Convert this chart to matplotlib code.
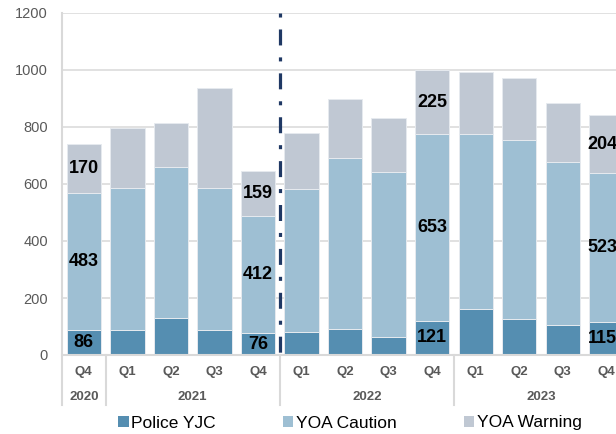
import matplotlib
matplotlib.use('Agg')
import matplotlib.pyplot as plt
from matplotlib.patches import Patch

plt.rcParams['font.family'] = ['Liberation Sans', 'DejaVu Sans']
plt.rcParams['lines.scale_dashes'] = False

# data
quarters = ['Q4', 'Q1', 'Q2', 'Q3', 'Q4', 'Q1', 'Q2', 'Q3', 'Q4', 'Q1', 'Q2', 'Q3', 'Q4']
years = ['2020', '2021', '2022', '2023']
year_spans = [(0, 0), (1, 4), (5, 8), (9, 12)]
police_yjc = [86, 87, 131, 89, 76, 82, 92, 63, 121, 163, 127, 105, 115]
yoa_caution = [483, 498, 530, 498, 412, 502, 600, 580, 653, 614, 626, 573, 523]
yoa_warning = [170, 213, 153, 349, 159, 194, 205, 190, 225, 216, 219, 207, 204]
labelled = [0, 4, 8, 12]  # Q4 bars carry value labels

C_POL, C_CAU, C_WAR = '#558eb1', '#9ebfd3', '#c0c8d3'
GREY_LINE = '#d9d9d9'
TXT = '#595959'
NAVY = '#1f3864'

W, H = 616, 434
fig = plt.figure(figsize=(W / 100, H / 100), dpi=100)
slot = 43.55
ax_left, ax_bottom, ax_top = 62, 355, 13
ax = fig.add_axes([ax_left / W, 1 - ax_bottom / H, (W - ax_left) / W, (ax_bottom - ax_top) / H])

x = list(range(len(quarters)))
bw = 0.79
edge = dict(edgecolor='#e6eaef', linewidth=0.7)
b1 = ax.bar(x, police_yjc, bw, color=C_POL, zorder=2, **edge)
b2 = ax.bar(x, yoa_caution, bw, bottom=police_yjc, color=C_CAU, zorder=2, **edge)
bot3 = [a + b for a, b in zip(police_yjc, yoa_caution)]
b3 = ax.bar(x, yoa_warning, bw, bottom=bot3, color=C_WAR, zorder=2, **edge)

for cont, vals in [(b1, police_yjc), (b2, yoa_caution), (b3, yoa_warning)]:
    labs = [str(v) if i in labelled else '' for i, v in enumerate(vals)]
    ax.bar_label(cont, labels=labs, label_type='center', fontsize=13,
                 fontweight='bold', color='black', clip_on=False)

ax.set_xlim(-0.5, -0.5 + (W - ax_left) / slot)
ax.set_ylim(0, 1200)
ax.set_yticks(range(0, 1201, 200))
ax.tick_params(axis='y', length=0, labelsize=10.5, labelcolor=TXT, pad=10)
ax.set_xticks([])
ax.yaxis.grid(True, color=GREY_LINE, lw=1.1, zorder=0)
ax.set_axisbelow(True)
for s in ['top', 'right', 'left']:
    ax.spines[s].set_visible(False)
ax.spines['bottom'].set_color(GREY_LINE)
ax.spines['bottom'].set_linewidth(1.5)

# period split (dash-dot)
ax.plot([4.5, 4.5], [1200, 0], color=NAVY, lw=2.3, zorder=3,
        dashes=(2.9, 8.6, 11.5, 8.6), dash_capstyle='butt')

# multi-level category axis
tr = ax.get_xaxis_transform()
ax.plot([-0.5, -0.5], [1.0, -0.146], transform=tr, color=GREY_LINE, lw=1.5, clip_on=False)
for xs in [0.5, 4.5, 8.5]:
    ax.plot([xs, xs], [0, -0.146], transform=tr, color=GREY_LINE, lw=1.5, clip_on=False)
for i, q in enumerate(quarters):
    ax.text(i, -0.05, q, transform=tr, ha='center', va='center', fontsize=9.5,
            fontweight='bold', color=TXT, clip_on=False)
for yr, (a, b) in zip(years, year_spans):
    ax.text((a + b) / 2, -0.123, yr, transform=tr, ha='center', va='center', fontsize=9.5,
            fontweight='bold', color=TXT, clip_on=False)

handles = [Patch(facecolor=C_POL), Patch(facecolor=C_CAU), Patch(facecolor=C_WAR)]
fig.legend(handles, ['Police YJC', 'YOA Caution', 'YOA Warning'], loc='center',
           bbox_to_anchor=(0.568, 1 - 423 / H), ncol=3, frameon=False, fontsize=12.5,
           handlelength=0.62, handleheight=0.62, handletextpad=0.15, columnspacing=3.85)

fig.savefig('out.png', dpi=100, facecolor='white')
